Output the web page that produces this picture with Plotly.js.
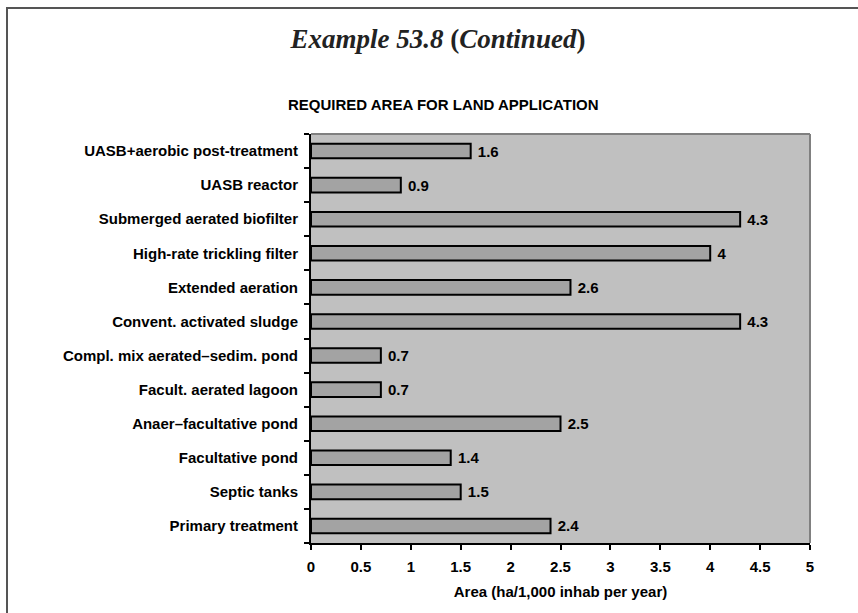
<!DOCTYPE html>
<html>
<head>
<meta charset="utf-8">
<script src="https://cdn.plot.ly/plotly-3.0.1.min.js"></script>
<style>
  html, body { margin: 0; padding: 0; background: #fff; }
  #wrap { position: relative; width: 858px; height: 613px; overflow: hidden; }
  #chart { width: 858px; height: 613px; }
  #frame { position: absolute; left: 6px; top: 7px; width: 900px; height: 700px;
           border-left: 2px solid #555; border-top: 2px solid #555; pointer-events: none; }
</style>
</head>
<body>
<div id="wrap">
  <div id="chart"></div>
  <div id="frame"></div>
</div>
<script>
const categories = [
  "Primary treatment",
  "Septic tanks",
  "Facultative pond",
  "Anaer\u2013facultative pond",
  "Facult. aerated lagoon",
  "Compl. mix aerated\u2013sedim. pond",
  "Convent. activated sludge",
  "Extended aeration",
  "High-rate trickling filter",
  "Submerged aerated biofilter",
  "UASB reactor",
  "UASB+aerobic post-treatment"
];
const areaValues = [2.4, 1.5, 1.4, 2.5, 0.7, 0.7, 4.3, 2.6, 4, 4.3, 0.9, 1.6];
const xTickValues = [0, 0.5, 1, 1.5, 2, 2.5, 3, 3.5, 4, 4.5, 5];
const xTickLabels = ["0", "0.5", "1", "1.5", "2", "2.5", "3", "3.5", "4", "4.5", "5"];

const trace = {
  type: "bar",
  orientation: "h",
  y: categories,
  x: areaValues,
  text: areaValues.map(v => "\u00a0" + String(v)),
  textposition: "outside",
  constraintext: "none",
  cliponaxis: false,
  textfont: { family: "Liberation Sans, Arial, sans-serif", size: 15, color: "#000", weight: "bold" },
  marker: { color: "#a3a3a3", line: { color: "#000", width: 2 } },
  hoverinfo: "skip"
};

const layout = {
  width: 858, height: 613,
  margin: { l: 311, r: 48, t: 134, b: 70 },
  paper_bgcolor: "#ffffff",
  plot_bgcolor: "#c0c0c0",
  showlegend: false,
  bargap: 0.57,
  font: { family: "Liberation Sans, Arial, sans-serif", size: 15, color: "#000" },
  title: {
    text: "<b><i>Example 53.8</i> (<i>Continued</i>)</b>",
    font: { family: "Liberation Serif, Times New Roman, serif", size: 27, color: "#222" },
    x: 438 / 858, xanchor: "center", xref: "container",
    y: 1 - 39 / 613, yanchor: "middle", yref: "container"
  },
  xaxis: {
    range: [0, 5],
    tickvals: xTickValues,
    ticktext: xTickLabels,
    showgrid: false, zeroline: false,
    showline: true, linecolor: "#000", linewidth: 2,
    ticks: "outside", ticklen: 5, tickwidth: 2, tickcolor: "#000",
    ticklabelstandoff: 4,
    tickfont: { size: 15, weight: "bold", color: "#000" },
    title: { text: "<b>Area (ha/1,000 inhab per year)</b>", font: { size: 15, color: "#000" }, standoff: 12 },
    fixedrange: true
  },
  yaxis: {
    type: "category",
    categoryorder: "array", categoryarray: categories,
    showgrid: false, zeroline: false,
    showline: true, linecolor: "#000", linewidth: 2,
    ticks: "outside", ticklen: 5, tickwidth: 2, tickcolor: "#000",
    tickson: "boundaries",
    ticklabelstandoff: 8,
    tickfont: { size: 15, weight: "bold", color: "#000" },
    fixedrange: true
  },
  shapes: [
    { type: "line", xref: "paper", yref: "paper", x0: 0, x1: 1, y0: 1, y1: 1,
      line: { color: "#808080", width: 2 }, layer: "below" },
    { type: "line", xref: "paper", yref: "paper", x0: 1, x1: 1, y0: 0, y1: 1,
      line: { color: "#808080", width: 2 }, layer: "below" }
  ],
  annotations: [
    { text: "<b>REQUIRED AREA FOR LAND APPLICATION</b>", xref: "paper", yref: "paper",
      x: (443 - 311) / 499, y: (543 - 104) / 409, xanchor: "center", yanchor: "middle",
      showarrow: false, font: { size: 15, color: "#000" } }
  ]
};

Plotly.newPlot("chart", [trace], layout, { displayModeBar: false, staticPlot: true });
</script>
</body>
</html>
